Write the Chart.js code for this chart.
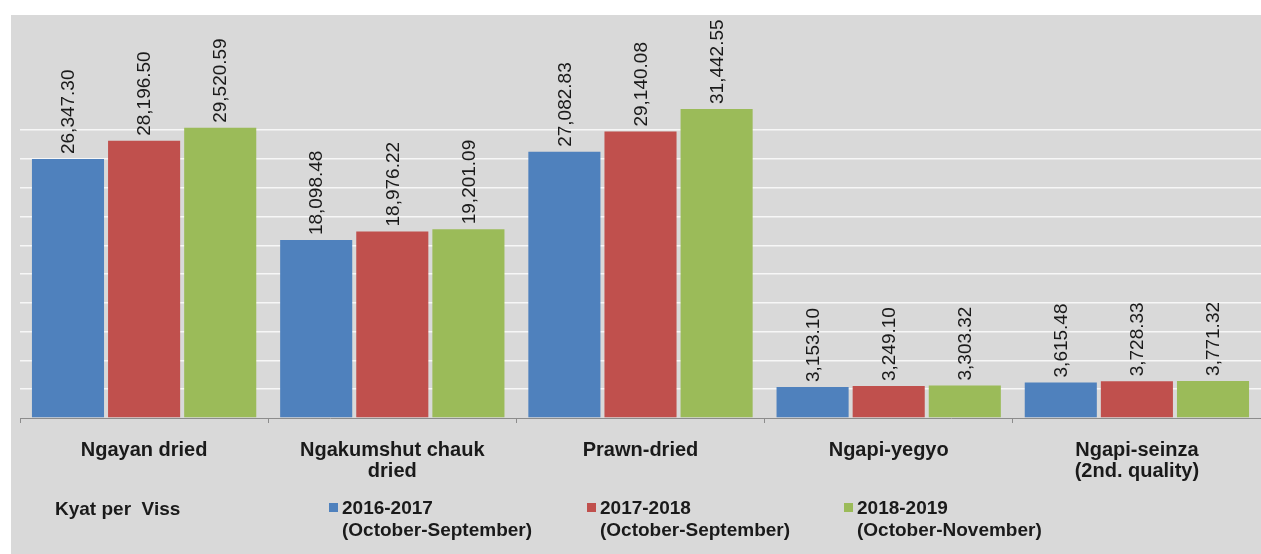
<!DOCTYPE html>
<html>
<head>
<meta charset="utf-8">
<script src="https://cdn.jsdelivr.net/npm/chart.js@4.4.1/dist/chart.umd.min.js"></script>
<style>
  body { margin: 0; background: #ffffff; }
  canvas { display: block; }
</style>
</head>
<body>
<canvas id="fishChart" width="1261" height="554"></canvas>
<script>
// Data
const categories = [
  'Ngayan dried',
  ['Ngakumshut chauk', 'dried'],
  'Prawn-dried',
  'Ngapi-yegyo',
  ['Ngapi-seinza', '(2nd. quality)']
];
const seriesNames = [
  ['2016-2017', '(October-September)'],
  ['2017-2018', '(October-September)'],
  ['2018-2019', '(October-November)']
];
const values1617 = [26347.30, 18098.48, 27082.83, 3153.10, 3615.48];
const values1718 = [28196.50, 18976.22, 29140.08, 3249.10, 3728.33];
const values1819 = [29520.59, 19201.09, 31442.55, 3303.32, 3771.32];
const unitLabel = 'Kyat per  Viss';

const colors = ['#4f81bd', '#c0504d', '#9bbb59'];
const FONT = "'Liberation Sans', Arial, sans-serif";

// gray panel behind everything
const panelBg = {
  id: 'panelBg',
  beforeDraw(chart) {
    const ctx = chart.ctx;
    ctx.save();
    ctx.fillStyle = '#d9d9d9';
    ctx.fillRect(11, 15, chart.width - 11, chart.height - 15);
    ctx.restore();
  }
};

// vertical value labels above each bar
const valueLabels = {
  id: 'valueLabels',
  afterDatasetsDraw(chart) {
    const ctx = chart.ctx;
    ctx.save();
    ctx.font = '19px ' + FONT;
    ctx.fillStyle = '#1a1a1a';
    ctx.textAlign = 'left';
    ctx.textBaseline = 'middle';
    chart.data.datasets.forEach((ds, i) => {
      chart.getDatasetMeta(i).data.forEach((bar, j) => {
        const txt = ds.data[j].toLocaleString('en-US', { minimumFractionDigits: 2, maximumFractionDigits: 2 });
        ctx.save();
        ctx.translate(bar.x + 1, bar.y - 5);
        ctx.rotate(-Math.PI / 2);
        ctx.fillText(txt, 0, 0);
        ctx.restore();
      });
    });
    ctx.restore();
  }
};

// legend row at the bottom
const bottomLegend = {
  id: 'bottomLegend',
  afterDraw(chart) {
    const ctx = chart.ctx;
    ctx.save();
    ctx.font = 'bold 19px ' + FONT;
    ctx.fillStyle = '#1a1a1a';
    ctx.textBaseline = 'middle';
    ctx.textAlign = 'left';
    ctx.fillText(unitLabel, 55, 510);
    const xs = [329, 587, 844];
    chart.data.datasets.forEach((ds, i) => {
      ctx.fillStyle = ds.backgroundColor;
      ctx.fillRect(xs[i], 503, 9, 9);
      ctx.fillStyle = '#1a1a1a';
      ds.label.forEach((line, k) => {
        ctx.fillText(line, xs[i] + 13, 509 + k * 22);
      });
    });
    ctx.restore();
  }
};

new Chart(document.getElementById('fishChart').getContext('2d'), {
  type: 'bar',
  data: {
    labels: categories,
    datasets: [
      { label: seriesNames[0], data: values1617, backgroundColor: colors[0] },
      { label: seriesNames[1], data: values1718, backgroundColor: colors[1] },
      { label: seriesNames[2], data: values1819, backgroundColor: colors[2] }
    ]
  },
  options: {
    responsive: false,
    animation: false,
    categoryPercentage: 0.92,
    barPercentage: 0.947,
    layout: { padding: { left: 20, top: 15, right: 0, bottom: 0 } },
    plugins: {
      legend: { display: false },
      tooltip: { enabled: false }
    },
    scales: {
      x: {
        grid: {
          drawOnChartArea: false,
          color: '#8c8c8c',
          tickLength: 5
        },
        border: { color: '#8c8c8c', width: 1 },
        ticks: {
          autoSkip: false,
          maxRotation: 0,
          padding: 16.5,
          color: '#1a1a1a',
          font: { family: FONT, size: 20, weight: 'bold', lineHeight: 1.05 }
        },
        afterFit(scale) { scale.height = 136; }
      },
      y: {
        min: 0,
        max: 41000,
        ticks: { display: false, stepSize: 3000 },
        border: { display: false },
        grid: {
          drawTicks: false,
          lineWidth: 1.5,
          color: (c) => (c.tick && c.tick.value > 0 && c.tick.value <= 30000) ? '#f7f7f7' : 'rgba(0,0,0,0)'
        },
        afterFit(scale) { scale.width = 0; }
      }
    }
  },
  plugins: [panelBg, valueLabels, bottomLegend]
});
</script>
</body>
</html>
